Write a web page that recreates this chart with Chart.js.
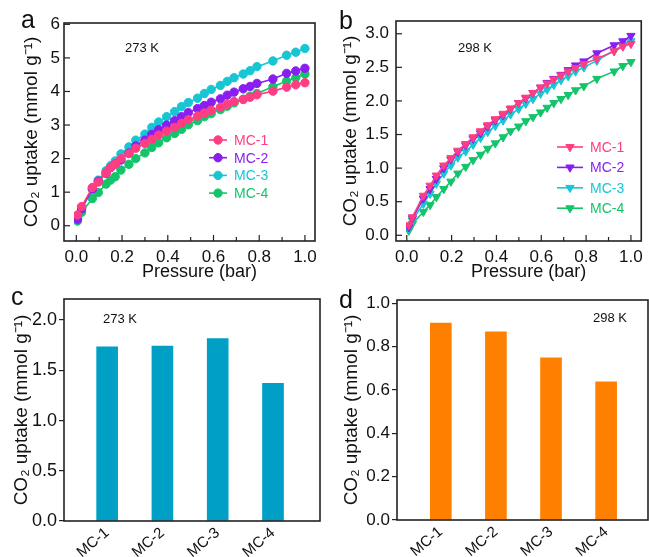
<!DOCTYPE html>
<html>
<head>
<meta charset="utf-8">
<script src="https://cdn.jsdelivr.net/npm/chart.js@4.4.1/dist/chart.umd.min.js"></script>
<style>
  html, body { margin:0; padding:0; background:#fff; }
  body { width:649px; height:557px; position:relative; overflow:hidden; font-family:"Liberation Sans", Arial, sans-serif; color:#111; }
  .box { position:absolute; }
  .plab { position:absolute; font-size:25px; line-height:25px; color:#111; }
  .note { position:absolute; font-size:13px; line-height:13px; color:#111; white-space:nowrap; }
</style>
</head>
<body>
<div class="box" style="left:0;top:0;width:330px;height:285px"><canvas id="ca"></canvas></div>
<div class="box" style="left:325px;top:0;width:324px;height:285px"><canvas id="cb"></canvas></div>
<div class="box" style="left:0;top:285px;width:330px;height:272px"><canvas id="cc"></canvas></div>
<div class="box" style="left:325px;top:285px;width:324px;height:272px"><canvas id="cd"></canvas></div>

<div class="plab" style="left:21px;top:7px">a</div>
<div class="plab" style="left:339px;top:8px">b</div>
<div class="plab" style="left:11px;top:284px">c</div>
<div class="plab" style="left:339px;top:287px">d</div>

<div class="note" style="left:125px;top:41px">273 K</div>
<div class="note" style="left:458px;top:41px">298 K</div>
<div class="note" style="left:103px;top:312px">273 K</div>
<div class="note" style="left:593px;top:311px">298 K</div>

<script>
// ---------------- data ----------------
const seriesNames = ['MC-1', 'MC-2', 'MC-3', 'MC-4'];

// panel a : 273 K isotherms
const pressure273 = [0.005, 0.023, 0.07, 0.096, 0.13, 0.15, 0.17, 0.195, 0.23, 0.26, 0.30, 0.33, 0.36, 0.395, 0.43, 0.46, 0.49, 0.53, 0.56, 0.59, 0.63, 0.66, 0.69, 0.73, 0.76, 0.79, 0.86, 0.92, 0.96, 1.0];
const mc1_273 = [0.32, 0.57, 1.14, 1.30, 1.57, 1.74, 1.84, 2.00, 2.15, 2.31, 2.45, 2.57, 2.70, 2.82, 2.93, 3.05, 3.16, 3.27, 3.36, 3.44, 3.53, 3.62, 3.70, 3.76, 3.83, 3.90, 4.01, 4.13, 4.20, 4.26];
const mc2_273 = [0.19, 0.50, 1.09, 1.33, 1.56, 1.73, 1.84, 1.96, 2.17, 2.38, 2.55, 2.72, 2.86, 3.00, 3.13, 3.25, 3.37, 3.49, 3.58, 3.68, 3.78, 3.89, 3.98, 4.08, 4.15, 4.24, 4.37, 4.54, 4.61, 4.69];
const mc3_273 = [0.22, 0.54, 1.11, 1.36, 1.64, 1.79, 1.93, 2.14, 2.35, 2.55, 2.73, 2.93, 3.09, 3.25, 3.40, 3.55, 3.67, 3.80, 3.94, 4.06, 4.18, 4.30, 4.41, 4.52, 4.62, 4.74, 4.91, 5.08, 5.17, 5.28];
const mc4_273 = [0.14, 0.40, 0.81, 0.99, 1.24, 1.36, 1.46, 1.66, 1.83, 2.00, 2.17, 2.33, 2.47, 2.62, 2.75, 2.87, 3.01, 3.13, 3.25, 3.34, 3.46, 3.56, 3.66, 3.77, 3.86, 3.94, 4.14, 4.31, 4.41, 4.52];

// panel b : 298 K isotherms
const pressure298 = [0.009, 0.025, 0.074, 0.104, 0.132, 0.165, 0.197, 0.228, 0.263, 0.296, 0.329, 0.361, 0.395, 0.43, 0.463, 0.499, 0.531, 0.563, 0.597, 0.626, 0.656, 0.688, 0.72, 0.753, 0.79, 0.848, 0.925, 0.964, 1.0];
const mc1_298 = [0.15, 0.27, 0.59, 0.74, 0.89, 1.04, 1.15, 1.26, 1.36, 1.46, 1.55, 1.64, 1.73, 1.81, 1.89, 1.97, 2.05, 2.12, 2.20, 2.26, 2.32, 2.38, 2.44, 2.49, 2.55, 2.63, 2.74, 2.81, 2.85];
const mc2_298 = [0.12, 0.25, 0.55, 0.69, 0.84, 1.00, 1.13, 1.24, 1.34, 1.44, 1.52, 1.62, 1.71, 1.79, 1.88, 1.97, 2.04, 2.12, 2.20, 2.27, 2.33, 2.39, 2.46, 2.53, 2.59, 2.71, 2.83, 2.89, 2.97];
const mc3_298 = [0.10, 0.22, 0.47, 0.62, 0.77, 0.92, 1.04, 1.16, 1.25, 1.35, 1.45, 1.54, 1.63, 1.71, 1.80, 1.88, 1.96, 2.03, 2.11, 2.17, 2.24, 2.31, 2.37, 2.44, 2.50, 2.60, 2.75, 2.83, 2.89];
const mc4_298 = [0.07, 0.17, 0.35, 0.45, 0.57, 0.69, 0.80, 0.92, 1.02, 1.12, 1.20, 1.29, 1.37, 1.46, 1.55, 1.62, 1.70, 1.76, 1.83, 1.90, 1.97, 2.03, 2.09, 2.16, 2.22, 2.33, 2.44, 2.52, 2.58];

// panels c, d : bar values
const barCategories = ['MC-1', 'MC-2', 'MC-3', 'MC-4'];
const uptake273 = [1.735, 1.742, 1.815, 1.37];
const uptake298 = [0.909, 0.868, 0.748, 0.638];

// tick labels
const pressureTicks = ['0.0', '0.2', '0.4', '0.6', '0.8', '1.0'];
const yTicksA = ['0', '1', '2', '3', '4', '5', '6'];
const yTicksB = ['0.0', '0.5', '1.0', '1.5', '2.0', '2.5', '3.0'];
const yTicksC = ['0.0', '0.5', '1.0', '1.5', '2.0'];
const yTicksD = ['0.0', '0.2', '0.4', '0.6', '0.8', '1.0'];

// ---------------- styling ----------------
const FONT = '"Liberation Sans", Arial, Helvetica, sans-serif';
Chart.defaults.font.family = FONT;
Chart.defaults.color = '#111';
const seriesColors = ['#FF3D83', '#8A1EF0', '#17C6D2', '#14C46A'];
const AXIS = '#222';
const yTitleText = 'CO\u2082 uptake (mmol g\u207B\u00B9)';

// frame + inward ticks plugin (also nudges the x-axis title sideways)
const framePlugin = {
  id: 'frame',
  afterLayout(chart, args, o) {
    if (o.titleShift) {
      const sx = chart.scales.x;
      sx.left += o.titleShift;
      sx.right += o.titleShift;
    }
  },
  afterDraw(chart, args, o) {
    const { ctx, chartArea: ca, scales } = chart;
    ctx.save();
    ctx.strokeStyle = AXIS;
    ctx.lineWidth = 1.6;
    ctx.strokeRect(ca.left, ca.top, ca.right - ca.left, ca.bottom - ca.top);
    ctx.lineWidth = 1.2;
    const xMaj = (o.xMajor || []).map(parseFloat);
    xMaj.forEach((v, i) => {
      const px = scales.x.getPixelForValue(v);
      ctx.beginPath(); ctx.moveTo(px, ca.bottom); ctx.lineTo(px, ca.bottom - 6); ctx.stroke();
      if (i < xMaj.length - 1) {
        const pm = scales.x.getPixelForValue((v + xMaj[i + 1]) / 2);
        ctx.beginPath(); ctx.moveTo(pm, ca.bottom); ctx.lineTo(pm, ca.bottom - 4); ctx.stroke();
      }
    });
    (o.yMajor || []).map(parseFloat).forEach(v => {
      const py = scales.y.getPixelForValue(v);
      ctx.beginPath(); ctx.moveTo(ca.left, py); ctx.lineTo(ca.left + 6, py); ctx.stroke();
    });
    ctx.restore();
  }
};

// in-plot legend plugin
const legendPlugin = {
  id: 'inLegend',
  afterDraw(chart, args, o) {
    if (o.x === undefined) return;
    const { ctx } = chart;
    ctx.save();
    chart.data.datasets.forEach((ds, i) => {
      const y = o.y + i * o.dy;
      ctx.strokeStyle = ds.borderColor;
      ctx.fillStyle = ds.borderColor;
      ctx.lineWidth = ds.borderWidth;
      ctx.beginPath(); ctx.moveTo(o.x, y); ctx.lineTo(o.x + o.len, y); ctx.stroke();
      ctx.lineWidth = 1;
      Chart.helpers.drawPoint(ctx, { pointStyle: ds.pointStyle, rotation: ds.pointRotation || 0, radius: ds.pointRadius, borderWidth: 1 }, o.x + o.len / 2, y);
      ctx.font = o.fontSize + 'px ' + FONT;
      ctx.textBaseline = 'middle';
      ctx.textAlign = 'left';
      ctx.fillText(ds.label, o.textX, y + 1);
    });
    ctx.restore();
  }
};

function tickSetter(labels) {
  return scale => { scale.ticks = labels.map(l => ({ value: parseFloat(l) })); };
}

function lineDatasets(xs, ys, style, rot, radius) {
  return ys.map((arr, k) => ({
    label: seriesNames[k],
    data: xs.map((x, i) => ({ x: x, y: arr[i] })),
    borderColor: seriesColors[k],
    backgroundColor: seriesColors[k],
    borderWidth: 1.6,
    pointStyle: style,
    pointRotation: rot,
    pointRadius: radius,
    pointBorderWidth: 1,
    tension: 0
  }));
}

function lineChart(id, opts) {
  return new Chart(document.getElementById(id), {
    type: 'line',
    data: { datasets: opts.datasets },
    plugins: [framePlugin, legendPlugin],
    options: {
      animation: false,
      responsive: true,
      maintainAspectRatio: false,
      layout: { padding: opts.padding },
      plugins: {
        legend: { display: false },
        tooltip: { enabled: false },
        frame: { xMajor: pressureTicks, yMajor: opts.yTicks, titleShift: 10 },
        inLegend: opts.legend
      },
      scales: {
        x: {
          type: 'linear', min: opts.xMin, max: opts.xMax,
          afterBuildTicks: tickSetter(pressureTicks),
          afterFit: s => { s.height = 44; },
          grid: { display: false, drawTicks: false },
          border: { display: false },
          ticks: { autoSkip: false, maxRotation: 0, padding: 6, font: { size: 17 }, color: '#111',
                   callback: (v, i) => pressureTicks[i] },
          title: { display: true, text: 'Pressure (bar)', font: { size: 18 }, color: '#111', padding: { top: 0, bottom: 2 } }
        },
        y: {
          type: 'linear', min: opts.yMin, max: opts.yMax,
          afterBuildTicks: tickSetter(opts.yTicks),
          afterFit: s => { s.width = opts.yWidth; },
          grid: { display: false, drawTicks: false },
          border: { display: false },
          ticks: { autoSkip: false, padding: opts.yPad, font: { size: 17 }, color: '#111',
                   callback: (v, i) => opts.yTicks[i] },
          title: { display: true, text: yTitleText, font: { size: 19 }, color: '#111', padding: { top: opts.yTitlePad, bottom: 0 } }
        }
      }
    }
  });
}

function barChart(id, opts) {
  return new Chart(document.getElementById(id), {
    type: 'bar',
    data: {
      datasets: [{
        label: opts.label,
        data: opts.values.map((v, i) => ({ x: i + 1, y: v })),
        backgroundColor: opts.color,
        borderWidth: 0,
        barThickness: 21
      }]
    },
    plugins: [framePlugin],
    options: {
      animation: false,
      responsive: true,
      maintainAspectRatio: false,
      layout: { padding: opts.padding },
      plugins: { legend: { display: false }, tooltip: { enabled: false }, frame: {} },
      scales: {
        x: {
          type: 'linear', min: opts.xMin, max: opts.xMax, offset: false,
          afterBuildTicks: scale => { scale.ticks = barCategories.map((c, i) => ({ value: i + 1 })); },
          afterFit: s => { s.height = opts.xHeight; },
          grid: { display: false, drawTicks: false },
          border: { display: false },
          ticks: { autoSkip: false, minRotation: 40, maxRotation: 40, padding: 3, font: { size: 15 }, color: '#111',
                   callback: (v, i) => barCategories[i] }
        },
        y: {
          type: 'linear', min: 0, max: opts.yMax,
          afterBuildTicks: tickSetter(opts.yTicks),
          afterFit: s => { s.width = opts.yWidth; },
          grid: { display: true, drawOnChartArea: false, drawTicks: true, tickLength: 5, color: AXIS, lineWidth: 1.2 },
          border: { display: false },
          ticks: { autoSkip: false, padding: opts.yPad, font: { size: opts.tickSize }, color: '#111',
                   callback: (v, i) => opts.yTicks[i] },
          title: { display: true, text: yTitleText, font: { size: 19 }, color: '#111', padding: { top: opts.yTitlePad, bottom: 0 } }
        }
      }
    }
  });
}

lineChart('ca', {
  datasets: lineDatasets(pressure273, [mc1_273, mc2_273, mc3_273, mc4_273], 'circle', 0, 4.2),
  padding: { top: 23, right: 15, left: 0, bottom: 0 },
  xMin: -0.054, xMax: 1.044, yMin: -0.455, yMax: 6.04,
  yTicks: yTicksA, yWidth: 64, yPad: 4, yTitlePad: 20,
  legend: { x: 209, len: 18, textX: 234, y: 140, dy: 17.7, fontSize: 14 }
});

lineChart('cb', {
  datasets: lineDatasets(pressure298, [mc1_298, mc2_298, mc3_298, mc4_298], 'triangle', 180, 4.8),
  padding: { top: 21, right: 1.5, left: 0, bottom: 0 },
  xMin: -0.048, xMax: 1.046, yMin: -0.085, yMax: 3.19,
  yTicks: yTicksB, yWidth: 71, yPad: 7, yTitlePad: 14,
  legend: { x: 232, len: 26, textX: 265, y: 147, dy: 20.4, fontSize: 14 }
});

barChart('cc', {
  label: '273 K', values: uptake273, color: '#00A0C6',
  padding: { top: 14, right: 10, left: 0, bottom: 0 },
  xMin: 0.22, xMax: 4.85, xHeight: 36, yMax: 2.21,
  yTicks: yTicksC, yWidth: 64, yPad: 2, yTitlePad: 10, tickSize: 18
});

barChart('cd', {
  label: '298 K', values: uptake298, color: '#FF8000',
  padding: { top: 15, right: 1, left: 0, bottom: 0 },
  xMin: 0.205, xMax: 4.76, xHeight: 37, yMax: 1.015,
  yTicks: yTicksD, yWidth: 72, yPad: 2, yTitlePad: 15, tickSize: 17
});
</script>
</body>
</html>
